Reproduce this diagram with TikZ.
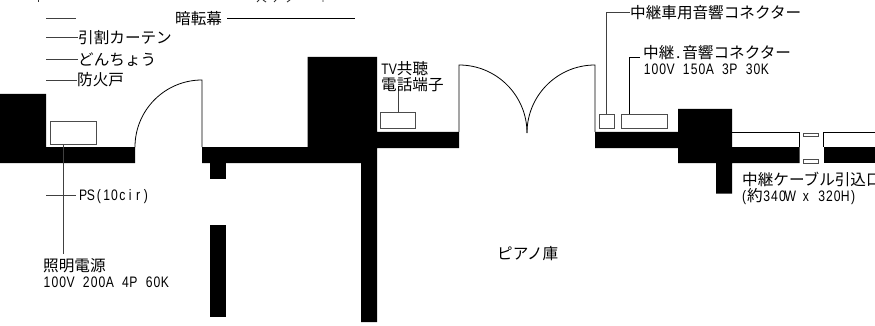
\documentclass[tikz,border=0pt]{standalone}
\usepackage{fontspec}
\setmainfont{Liberation Sans}
\newfontfamily\jpfont{Noto Sans CJK JP}
\newfontfamily\latfont[FakeStretch=0.8]{Liberation Sans}
\newcommand\latsize{\latfont\fontsize{15.2}{16}\selectfont}
\makeatletter
\def\hw#1{\hw@i#1\relax}
\def\hw@i#1{\ifx#1\relax\else\makebox[7.85pt]{#1}\expandafter\hw@i\fi}
\makeatother
\tikzset{
  x=1pt,y=-1pt,
  wall/.style={fill=black,draw=none},
  leader/.style={draw=black!75,line width=0.9pt},
  fixture/.style={draw=black!70,line width=0.9pt,fill=white},
  door/.style={draw=black,line width=0.8pt},
  jp/.style={anchor=base west,inner sep=0pt,yshift=-1pt,font=\jpfont\fontsize{15.6}{16}\selectfont},
  lat/.style={anchor=base west,inner sep=0pt,font=\latsize},
}
\begin{document}
\begin{tikzpicture}
\useasboundingbox (0,0) rectangle (875,326);
\clip (0,0) rectangle (875,326);
% walls
\fill[wall] (0,94) -- (46,94) -- (46,147) -- (135,147) -- (135,163) -- (0,163) -- cycle;
\fill[wall] (202,147) -- (307.5,147) -- (307.5,57) -- (377,57) -- (377,132) -- (459,132) -- (459,148) -- (377,148) -- (377,322) -- (361,322) -- (361,163) -- (202,163) -- cycle;
\fill[wall] (209.5,163) rectangle (225.5,178.5);
\fill[wall] (209.5,225) rectangle (226,317);
\fill[wall] (595,132) -- (678,132) -- (678,109) -- (732,109) -- (732,147) -- (799.5,147) -- (799.5,163) -- (732,163) -- (732,193.5) -- (716,193.5) -- (716,163) -- (678,163) -- (678,148) -- (595,148) -- cycle;
\fill[wall] (823.5,147) rectangle (875,163);
% thin wall outline at the right
\draw[door] (732,132.5) -- (799.5,132.5) -- (799.5,147);
\draw[door] (875,132.5) -- (823.5,132.5) -- (823.5,147);
\draw[fixture] (803.5,133) rectangle (818.5,136.5);
\draw[fixture] (803.5,159.5) rectangle (818.5,163);
% doors
\draw[door] (135,147) arc[start angle=180,end angle=270,radius=67] -- (202,147);
\draw[door] (459,132) -- (459,65) arc[start angle=270,end angle=360,radius=68] -- (527,133);
\draw[door] (595,132) -- (595,65) arc[start angle=270,end angle=180,radius=68];
% fixtures
\node[fixture,draw,inner sep=0pt,minimum width=46pt,minimum height=23pt] (light) at (73.5,133) {};
\node[fixture,draw,inner sep=0pt,minimum width=34.5pt,minimum height=15.5pt] (tv) at (398,120.5) {};
\node[fixture,draw,inner sep=0pt,minimum width=15.5pt,minimum height=14.5pt] (relayA) at (606.8,121.5) {};
\node[fixture,draw,inner sep=0pt,minimum width=46pt,minimum height=14.5pt] (relayB) at (644.5,121.5) {};
% labels
\node[jp] (anten) at (175,23.5) {暗転幕};
\node[jp] (hiki) at (78,43) {引割カーテン};
\node[jp] (don) at (78,64.5) {どんちょう};
\node[jp] (bouka) at (77,85) {防火戸};
\node[lat] (ps) at (79,200.5) {\hw{PS(10cir)}};
\node[jp] (shomei) at (43,270.5) {照明電源};
\node[lat] (shomeiv) at (43,287.5) {\hw{100V~200A~4P~60K}};
\node[jp] (tvl) at (381,74) {{\latsize\hw{TV}}共聴};
\node[jp] (tel) at (381,90) {電話端子};
\node[jp] (sha) at (630,17.5) {中継車用音響コネクター};
\node[jp] (onkyo) at (643,58) {中継\makebox[8pt]{.}音響コネクター};
\node[lat] (onkyov) at (643,75) {\hw{100V~150A~3P~30K}};
\node[jp] (piano) at (497,258) {ピアノ庫};
\node[jp] (cable) at (742,184.5) {中継ケーブル引込口};
\node[jp] (cablesize) at (742,200) {\makebox[5pt][l]{\latsize(}約{\latsize\hw{340W~x~320H)}}};
% leaders
\coordinate (a1) at (46,18); \coordinate (a2) at (76,18);
\draw[leader] (a1) -- (a2);
\coordinate (b1) at (46,37.5);
\draw[leader] (b1) -- (hiki.base west |- b1);
\coordinate (c1) at (46,59);
\draw[leader] (c1) -- (don.base west |- c1);
\coordinate (d1) at (46,80);
\draw[leader] (d1) -- (bouka.base west |- d1);
\coordinate (e1) at (227,18); \coordinate (e2) at (355,18);
\draw[leader,draw=black] (e1) -- (e2);
\coordinate (p1) at (46,195); \coordinate (p2) at (76,195);
\draw[leader] (p1) -- (p2);
\coordinate (s1) at (63.5,254);
\draw[leader] (light.south -| s1) -- (s1);
\coordinate (t1) at (398,91);
\draw[leader] (tv.north) -- (t1);
\coordinate (ra) at (606.5,12);
\draw[leader] (relayA.north -| ra) -- (ra) -- (630,12);
\coordinate (rb) at (629.5,57.5);
\draw[leader,draw=black] (relayB.north -| rb) -- (rb) -- (640,57.5);
% cut-off text marks at the top edge
\draw[line width=0.9pt,black!80] (38.5,0) -- (38.5,2);
\draw[line width=0.9pt,black!80] (257,2) -- (259,0) (263,0) -- (266,2) (274,2) -- (276,0) (287,2) -- (290,0) (323,0) -- (323,2);
\end{tikzpicture}
\end{document}
